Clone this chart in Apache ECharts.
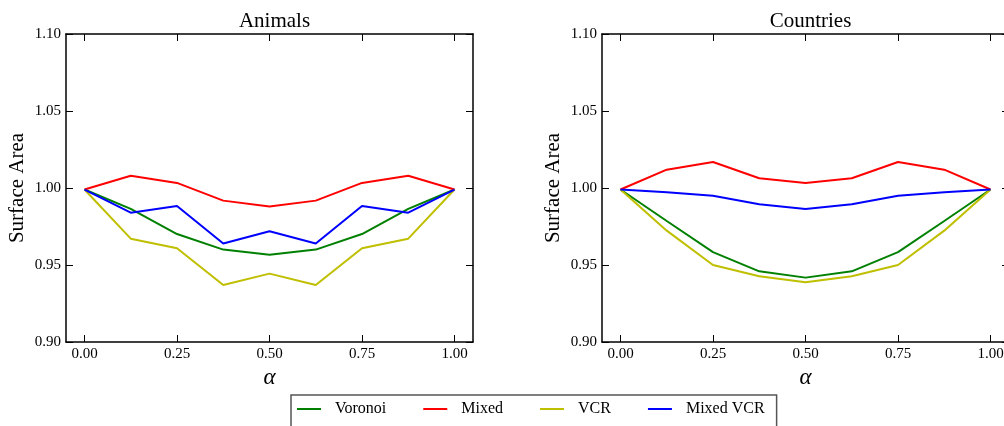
<!DOCTYPE html>
<html>
<head>
<meta charset="utf-8">
<script src="https://cdn.jsdelivr.net/npm/echarts@6/dist/echarts.min.js"></script>
<style>
html,body{margin:0;padding:0;background:#fff;}
#chart{width:1004px;height:426px;}
</style>
</head>
<body>
<div id="chart"></div>
<script>
// ---- data ----
const alpha = [0, 0.125, 0.25, 0.375, 0.5, 0.625, 0.75, 0.875, 1.0];
const xTickValues = [0, 0.25, 0.5, 0.75, 1.0];
const yTickValues = [0.90, 0.95, 1.00, 1.05, 1.10];
const panelTitles = ['Animals', 'Countries'];
const seriesNames = ['Voronoi', 'Mixed', 'VCR', 'Mixed VCR'];

const animalsVoronoi  = [0.999, 0.9864, 0.9701, 0.9600, 0.9567, 0.9600, 0.9701, 0.9864, 0.999];
const animalsMixed    = [0.999, 1.0080, 1.0033, 0.9918, 0.9880, 0.9918, 1.0033, 1.0080, 0.999];
const animalsVCR      = [0.999, 0.9671, 0.9609, 0.9370, 0.9444, 0.9370, 0.9609, 0.9671, 0.999];
const animalsMixedVCR = [0.999, 0.9840, 0.9883, 0.9640, 0.9719, 0.9640, 0.9883, 0.9840, 0.999];

const countriesVoronoi  = [0.999, 0.9786, 0.9584, 0.9459, 0.9418, 0.9459, 0.9584, 0.9786, 0.999];
const countriesMixed    = [0.999, 1.0119, 1.0169, 1.0063, 1.0033, 1.0063, 1.0169, 1.0119, 0.999];
const countriesVCR      = [0.999, 0.9723, 0.9500, 0.9427, 0.9388, 0.9427, 0.9500, 0.9723, 0.999];
const countriesMixedVCR = [0.999, 0.9972, 0.9950, 0.9894, 0.9864, 0.9894, 0.9950, 0.9972, 0.999];

const colors = ['#008000', '#ff0000', '#bfbf00', '#0000ff'];
const panelData = [
  [animalsVoronoi, animalsMixed, animalsVCR, animalsMixedVCR],
  [countriesVoronoi, countriesMixed, countriesVCR, countriesMixedVCR]
];

// ---- chart ----
const FONT = '"Liberation Serif", "DejaVu Serif", serif';
const chart = echarts.init(document.getElementById('chart'), null, {renderer: 'canvas'});

const grids = [
  {left: 66, width: 407, top: 34, bottom: 84, outerBoundsMode: 'none', containLabel: false},
  {left: 602, width: 407, top: 34, bottom: 84, outerBoundsMode: 'none', containLabel: false}
];

const xAxes = [], yAxes = [], series = [];
const axisLine = {show: true, onZero: false, lineStyle: {color: '#000', width: 1.5}};
const tick = (vals) => ({show: true, inside: true, length: 7, customValues: vals, lineStyle: {color: '#000', width: 1}});

grids.forEach((g, gi) => {
  // bottom x
  xAxes.push({
    type: 'value', gridIndex: gi, position: 'bottom', min: -0.05, max: 1.05,
    axisLine, axisTick: tick(xTickValues), splitLine: {show: false},
    axisLabel: {customValues: xTickValues, formatter: v => v.toFixed(2), color: '#000',
      fontFamily: FONT, fontSize: 15, margin: 5},
    name: 'α', nameLocation: 'middle', nameGap: 19,
    nameTextStyle: {fontFamily: FONT, fontStyle: 'italic', fontSize: 23, color: '#000'}
  });
  // top x (mirror ticks)
  xAxes.push({
    type: 'value', gridIndex: gi, position: 'top', min: -0.05, max: 1.05,
    axisLine, axisTick: tick(xTickValues), splitLine: {show: false},
    axisLabel: {show: false}
  });
  yAxes.push({
    type: 'value', gridIndex: gi, position: 'left', min: 0.90, max: 1.10, interval: 0.05,
    axisLine, axisTick: tick(yTickValues), splitLine: {show: false},
    axisLabel: {customValues: yTickValues, formatter: v => v.toFixed(2), color: '#000',
      fontFamily: FONT, fontSize: 15, margin: 5},
    name: 'Surface Area', nameLocation: 'middle', nameGap: 38,
    nameTextStyle: {fontFamily: FONT, fontSize: 21, color: '#000'}
  });
  yAxes.push({
    type: 'value', gridIndex: gi, position: 'right', min: 0.90, max: 1.10, interval: 0.05,
    axisLine, axisTick: tick(yTickValues), splitLine: {show: false},
    axisLabel: {show: false}
  });
  panelData[gi].forEach((vals, si) => {
    series.push({
      type: 'line', name: seriesNames[si], xAxisIndex: gi * 2, yAxisIndex: gi * 2,
      data: alpha.map((a, i) => [a, vals[i]]),
      symbol: 'none', showSymbol: false, animation: false,
      lineStyle: {color: colors[si], width: 2}, itemStyle: {color: colors[si]},
      emphasis: {disabled: true}
    });
  });
});

chart.setOption({
  animation: false,
  backgroundColor: '#fff',
  grid: grids,
  title: panelTitles.map((t, i) => ({
    text: t, left: i === 0 ? 269.5 : 805.5, top: 6, textAlign: 'center',
    textStyle: {fontFamily: FONT, fontSize: 21, fontWeight: 'normal', color: '#000'}
  })),
  legend: {
    data: seriesNames.map((n, i) => ({name: n, icon: 'rect', itemStyle: {color: colors[i]}})),
    left: 291, top: 395, orient: 'horizontal',
    itemWidth: 24, itemHeight: 2, itemGap: 37,
    padding: [6, 12, 30, 6],
    borderColor: '#555', borderWidth: 1.5,
    textStyle: {fontFamily: FONT, fontSize: 16, color: '#000', padding: [0, 0, 0, 9]}
  },
  xAxis: xAxes,
  yAxis: yAxes,
  series
});
</script>
</body>
</html>
